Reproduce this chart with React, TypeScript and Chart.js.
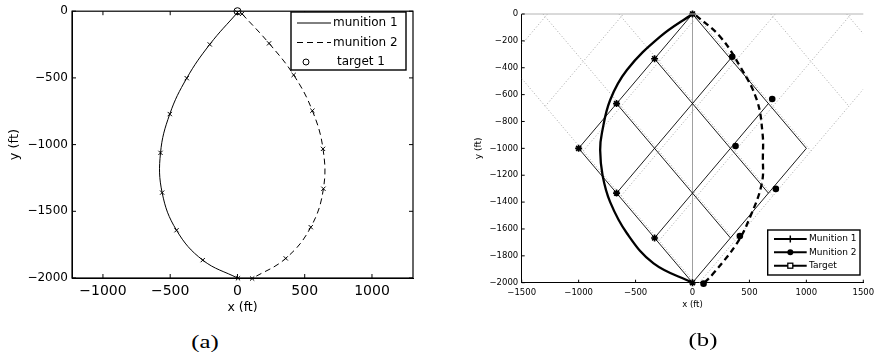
import React, { useEffect, useRef } from "react";
import { Chart, registerables } from "chart.js";
Chart.register(...registerables);

const FONT = "'DejaVu Sans', 'Liberation Sans', sans-serif";

// ---------- panel (a) ----------
const aXTicks = [-1000, -500, 0, 500, 1000];
const aYTicks = [0, -500, -1000, -1500, -2000];
const aM1X = [0, -206, -377, -503, -572, -560, -453, -258, 4];
const aM1Y = [-10, -249, -502, -771, -1062, -1360, -1642, -1866, -2002];
const aM2X = [34, 235, 418, 557, 636, 639, 545, 359, 109];
const aM2Y = [-20, -241, -478, -746, -1032, -1331, -1619, -1853, -2004];
const aTargetX = [0];
const aTargetY = [0];
const aLegend = ["munition 1", "munition 2", "target 1"];

// ---------- panel (b) ----------
const bXTicks = [-1500, -1000, -500, 0, 500, 1000, 1500];
const bYTicks = [0, -200, -400, -600, -800, -1000, -1200, -1400, -1600, -1800, -2000];
const bM1CurveX = [0, -284, -576, -723, -796, -811, -790, -723, -576, -342, 0];
const bM1CurveY = [0, -169, -417, -640, -888, -1012, -1200, -1400, -1632, -1856, -2000];
const bM2CurveX = [30, 243, 419, 565, 615, 618, 609, 507, 390, 184, 97];
const bM2CurveY = [-10, -169, -392, -640, -888, -1062, -1260, -1509, -1707, -1930, -2007];
const bM1MarkX = [0, -333, -667, -1000, -667, -333, 0];
const bM1MarkY = [0, -333, -667, -1000, -1333, -1667, -2000];
const bM2MarkX = [349, 700, 378, 732, 416, 97];
const bM2MarkY = [-318, -633, -982, -1302, -1652, -2007];
const bTargetX = [0];
const bTargetY = [0];
const bLatticeSum = [0, -2000 / 3, -4000 / 3, -2000]; // lines x+y=c
const bLatticeDiff = [0, 2000 / 3, 4000 / 3, 2000]; // lines x-y=d
const bDotSum = [-2000, -4000 / 3, -2000 / 3, 0, 2000 / 3, 4000 / 3];
const bDotDiff = [-4000 / 3, -2000 / 3, 0, 2000 / 3, 4000 / 3, 2000];
const bDotShiftSum = 20;
const bDotShiftDiff = 60;
const bLegend = ["Munition 1", "Munition 2", "Target"];

const toPts = (xs: number[], ys: number[]) => xs.map((x, i) => ({ x, y: ys[i] }));
const fmt = (v: any) => String(v).replace("-", "\u2212");

function latticeSegments() {
  const pts: any[] = [];
  const dMin = bLatticeDiff[0];
  const dMax = bLatticeDiff[bLatticeDiff.length - 1];
  const cMin = bLatticeSum[bLatticeSum.length - 1];
  const cMax = bLatticeSum[0];
  for (const c of bLatticeSum) {
    const xa = (c + dMin) / 2, xb = (c + dMax) / 2;
    pts.push({ x: xa, y: c - xa }, { x: xb, y: c - xb }, { x: xb, y: null });
  }
  for (const d of bLatticeDiff) {
    const xa = (cMin + d) / 2, xb = (cMax + d) / 2;
    pts.push({ x: xa, y: xa - d }, { x: xb, y: xb - d }, { x: xb, y: null });
  }
  return pts;
}

function dottedSegments() {
  const pts: any[] = [];
  const dMax = 2000 + bDotShiftDiff;
  const cMin = -2000 + bDotShiftSum;
  for (const c0 of bDotSum) {
    const c = c0 + bDotShiftSum;
    const x0 = Math.max(c, -1500);
    const x1 = Math.min(c + 2000, 1500, (dMax + c) / 2);
    if (x1 > x0) pts.push({ x: x0, y: c - x0 }, { x: x1, y: c - x1 }, { x: x1, y: null });
  }
  for (const d0 of bDotDiff) {
    const d = d0 + bDotShiftDiff;
    const x0 = Math.max(d - 2000, (cMin + d) / 2, -1500);
    const x1 = Math.min(d, 1500);
    if (x1 > x0) pts.push({ x: x0, y: x0 - d }, { x: x1, y: x1 - d }, { x: x1, y: null });
  }
  return pts;
}

const aExtras = {
  id: "aExtras",
  afterDraw(chart: any) {
    const { ctx, chartArea, scales } = chart;
    const { left, right, top, bottom } = chartArea;
    ctx.save();
    ctx.strokeStyle = "#000";
    ctx.lineWidth = 1.2;
    ctx.setLineDash([]);
    ctx.strokeRect(left, top, right - left, bottom - top);
    ctx.lineWidth = 1;
    ctx.beginPath();
    for (const v of aXTicks) {
      const px = scales.x.getPixelForValue(v);
      ctx.moveTo(px, bottom); ctx.lineTo(px, bottom - 4);
      ctx.moveTo(px, top); ctx.lineTo(px, top + 4);
    }
    for (const v of aYTicks) {
      const py = scales.y.getPixelForValue(v);
      ctx.moveTo(left, py); ctx.lineTo(left + 4, py);
      ctx.moveTo(right, py); ctx.lineTo(right - 4, py);
    }
    ctx.stroke();
    // legend
    const bx = 291, by = 12, bw = 115, bh = 58;
    ctx.fillStyle = "#fff";
    ctx.fillRect(bx, by, bw, bh);
    ctx.lineWidth = 1.4;
    ctx.strokeRect(bx, by, bw, bh);
    const rows = [23, 42.5, 62];
    ctx.lineWidth = 1;
    ctx.beginPath(); ctx.moveTo(297, rows[0]); ctx.lineTo(331, rows[0]); ctx.stroke();
    ctx.setLineDash([6, 4]);
    ctx.beginPath(); ctx.moveTo(297, rows[1]); ctx.lineTo(331, rows[1]); ctx.stroke();
    ctx.setLineDash([]);
    ctx.beginPath(); ctx.arc(306, rows[2], 3, 0, Math.PI * 2); ctx.stroke();
    ctx.fillStyle = "#000";
    ctx.font = `12px ${FONT}`;
    ctx.textBaseline = "middle";
    ctx.textAlign = "left";
    ctx.fillText(aLegend[0], 333, rows[0]);
    ctx.fillText(aLegend[1], 333, rows[1]);
    ctx.fillText(aLegend[2], 337, rows[2]);
    ctx.restore();
  },
};

const bExtras = {
  id: "bExtras",
  afterDraw(chart: any) {
    const { ctx, chartArea, scales } = chart;
    const { left, right, top, bottom } = chartArea;
    ctx.save();
    ctx.setLineDash([]);
    ctx.strokeStyle = "#b4b4b4";
    ctx.lineWidth = 1;
    ctx.beginPath(); ctx.moveTo(left, top); ctx.lineTo(right, top); ctx.stroke();
    ctx.strokeStyle = "#000";
    ctx.beginPath();
    for (const v of bXTicks) {
      const px = scales.x.getPixelForValue(v);
      ctx.moveTo(px, bottom); ctx.lineTo(px, bottom - 3);
    }
    for (const v of bYTicks) {
      const py = scales.y.getPixelForValue(v);
      ctx.moveTo(left, py); ctx.lineTo(left + 3, py);
    }
    ctx.stroke();
    // legend
    const bx = 327.7, by = 230, bw = 92.3, bh = 45;
    ctx.fillStyle = "#fff";
    ctx.fillRect(bx, by, bw, bh);
    ctx.lineWidth = 1.4;
    ctx.strokeRect(bx, by, bw, bh);
    const rows = [239, 252.3, 265.7];
    const mx = 350.3;
    ctx.lineWidth = 2;
    for (const r of rows) {
      ctx.beginPath(); ctx.moveTo(334, r); ctx.lineTo(366.7, r); ctx.stroke();
    }
    ctx.lineWidth = 1.5;
    ctx.beginPath();
    ctx.moveTo(mx, rows[0] - 3.5); ctx.lineTo(mx, rows[0] + 3.5);
    ctx.stroke();
    ctx.fillStyle = "#000";
    ctx.beginPath(); ctx.arc(mx, rows[1], 3, 0, Math.PI * 2); ctx.fill();
    ctx.fillStyle = "#fff";
    ctx.fillRect(mx - 2.5, rows[2] - 2.5, 5, 5);
    ctx.lineWidth = 1.3;
    ctx.strokeRect(mx - 2.5, rows[2] - 2.5, 5, 5);
    ctx.fillStyle = "#000";
    ctx.font = `9px ${FONT}`;
    ctx.textBaseline = "middle";
    ctx.textAlign = "left";
    bLegend.forEach((t, i) => ctx.fillText(t, 369, rows[i]));
    ctx.restore();
  },
};

function makeA(canvas: HTMLCanvasElement) {
  return new Chart(canvas, {
    type: "scatter",
    data: {
      datasets: [
        {
          label: aLegend[2], data: toPts(aTargetX, aTargetY), pointStyle: "circle",
          pointRadius: 3.5, pointBorderWidth: 1, pointBorderColor: "#000",
          pointBackgroundColor: "rgba(0,0,0,0)", showLine: false, clip: false,
        } as any,
        {
          label: aLegend[0], data: toPts(aM1X, aM1Y), showLine: true, tension: 0.4,
          borderColor: "#000", borderWidth: 1, pointStyle: "crossRot", pointRadius: 3,
          pointBorderColor: "#000", pointBorderWidth: 1, backgroundColor: "rgba(0,0,0,0)", clip: false,
        },
        {
          label: aLegend[1], data: toPts(aM2X, aM2Y), showLine: true, tension: 0.4,
          borderColor: "#000", borderWidth: 1, borderDash: [6, 4], pointStyle: "crossRot",
          pointRadius: 3, pointBorderColor: "#000", pointBorderWidth: 1,
          backgroundColor: "rgba(0,0,0,0)", clip: false,
        },
      ],
    },
    options: {
      animation: false, responsive: false, devicePixelRatio: 1, events: [],
      layout: { padding: { top: 10, right: 27, left: 0, bottom: 0 } },
      plugins: { legend: { display: false }, tooltip: { enabled: false } },
      scales: {
        x: {
          type: "linear", min: -1230, max: 1305,
          afterBuildTicks: (s: any) => { s.ticks = aXTicks.map((v) => ({ value: v })); },
          afterFit: (s: any) => { s.height = 52; },
          grid: { display: false, drawTicks: false },
          border: { display: true, color: "#000", width: 1 },
          ticks: { font: { family: FONT, size: 14 }, color: "#000", padding: 5, maxRotation: 0, autoSkip: false, callback: (v: any) => fmt(v) },
          title: { display: true, text: "x (ft)", font: { family: FONT, size: 12.5 }, color: "#000", padding: { top: 0, bottom: 14.5 } },
        },
        y: {
          type: "linear", min: -2000, max: 0,
          afterBuildTicks: (s: any) => { s.ticks = aYTicks.map((v) => ({ value: v })); },
          afterFit: (s: any) => { s.width = 72; },
          grid: { display: false, drawTicks: false },
          border: { display: true, color: "#000", width: 1 },
          ticks: { font: { family: FONT, size: 12 }, color: "#000", padding: 4, autoSkip: false, callback: (v: any) => fmt(v) },
          title: { display: true, text: "y (ft)", font: { family: FONT, size: 13 }, color: "#000", padding: { top: 7.2, bottom: 0 } },
        },
      },
    } as any,
    plugins: [aExtras],
  });
}

function makeB(canvas: HTMLCanvasElement) {
  return new Chart(canvas, {
    type: "scatter",
    data: {
      datasets: [
        {
          label: bLegend[0], data: toPts(bM1MarkX, bM1MarkY), showLine: false, pointStyle: "star",
          pointRadius: 3.5, pointBorderWidth: 1.6, pointBorderColor: "#000", clip: false,
        },
        {
          label: bLegend[1], data: toPts(bM2MarkX, bM2MarkY), showLine: false, pointStyle: "circle",
          pointRadius: 3.3, pointBorderWidth: 0, pointBackgroundColor: "#000", clip: false,
        },
        {
          label: bLegend[2], data: toPts(bTargetX, bTargetY), showLine: false, pointStyle: "rect",
          pointRadius: 2.5, pointBorderWidth: 1, pointBorderColor: "#000",
          pointBackgroundColor: "rgba(0,0,0,0)", clip: false,
        },
        {
          label: "m1 path", data: toPts(bM1CurveX, bM1CurveY), showLine: true, tension: 0.4,
          borderColor: "#000", borderWidth: 2.3, pointRadius: 0, clip: false,
        },
        {
          label: "m2 path", data: toPts(bM2CurveX, bM2CurveY), showLine: true, tension: 0.4,
          borderColor: "#000", borderWidth: 2.3, borderDash: [6, 4], pointRadius: 0, clip: false,
        },
        {
          label: "lattice", data: latticeSegments(), showLine: true, tension: 0, spanGaps: false,
          borderColor: "#000", borderWidth: 0.9, pointRadius: 0,
        },
        {
          label: "x=0", data: [{ x: 0, y: 0 }, { x: 0, y: -2000 }], showLine: true,
          borderColor: "#a0a0a0", borderWidth: 1, pointRadius: 0,
        },
        {
          label: "dotted", data: dottedSegments(), showLine: true, tension: 0, spanGaps: false,
          borderColor: "#a6a6a6", borderWidth: 1, borderDash: [1, 2.2], pointRadius: 0,
        },
      ],
    },
    options: {
      animation: false, responsive: false, devicePixelRatio: 1, events: [],
      layout: { padding: { top: 14, right: 16.7, left: 0, bottom: 0 } },
      plugins: { legend: { display: false }, tooltip: { enabled: false } },
      scales: {
        x: {
          type: "linear", min: -1500, max: 1500,
          afterBuildTicks: (s: any) => { s.ticks = bXTicks.map((v) => ({ value: v })); },
          afterFit: (s: any) => { s.height = 47.3; },
          grid: { display: false, drawTicks: false },
          border: { display: true, color: "#000", width: 1 },
          ticks: { font: { family: FONT, size: 8.5 }, color: "#000", padding: 4.5, maxRotation: 0, autoSkip: false, callback: (v: any) => fmt(v) },
          title: { display: true, text: "x (ft)", font: { family: FONT, size: 8.5 }, color: "#000", padding: { top: 0, bottom: 19.9 } },
        },
        y: {
          type: "linear", min: -2000, max: 0,
          afterBuildTicks: (s: any) => { s.ticks = bYTicks.map((v) => ({ value: v })); },
          afterFit: (s: any) => { s.width = 81.7; },
          grid: { display: false, drawTicks: false },
          border: { display: true, color: "#000", width: 1 },
          ticks: { font: { family: FONT, size: 8.5 }, color: "#000", padding: 3.5, autoSkip: false, callback: (v: any) => fmt(v) },
          title: { display: true, text: "y (ft)", font: { family: FONT, size: 9 }, color: "#000", padding: { top: 32.9, bottom: 0 } },
        },
      },
    } as any,
    plugins: [bExtras],
  });
}

export default function App() {
  const refA = useRef<HTMLCanvasElement | null>(null);
  const refB = useRef<HTMLCanvasElement | null>(null);
  useEffect(() => {
    const a = makeA(refA.current!);
    const b = makeB(refB.current!);
    return () => { a.destroy(); b.destroy(); };
  }, []);
  const cap: React.CSSProperties = {
    position: "absolute", transform: "translate(-50%, -50%) scaleX(1.3)",
    font: "19px 'Liberation Serif', 'DejaVu Serif', serif", whiteSpace: "nowrap", color: "#000",
  };
  return (
    <div style={{ position: "fixed", left: 0, top: 0, width: 880, height: 356, background: "#fff" }}>
      <canvas ref={refA} width={440} height={330} style={{ position: "absolute", left: 0, top: 0, width: 440, height: 330 }} />
      <canvas ref={refB} width={440} height={330} style={{ position: "absolute", left: 440, top: 0, width: 440, height: 330 }} />
      <div style={{ ...cap, left: 205, top: 342 }}>(a)</div>
      <div style={{ ...cap, left: 703, top: 340 }}>(b)</div>
    </div>
  );
}
